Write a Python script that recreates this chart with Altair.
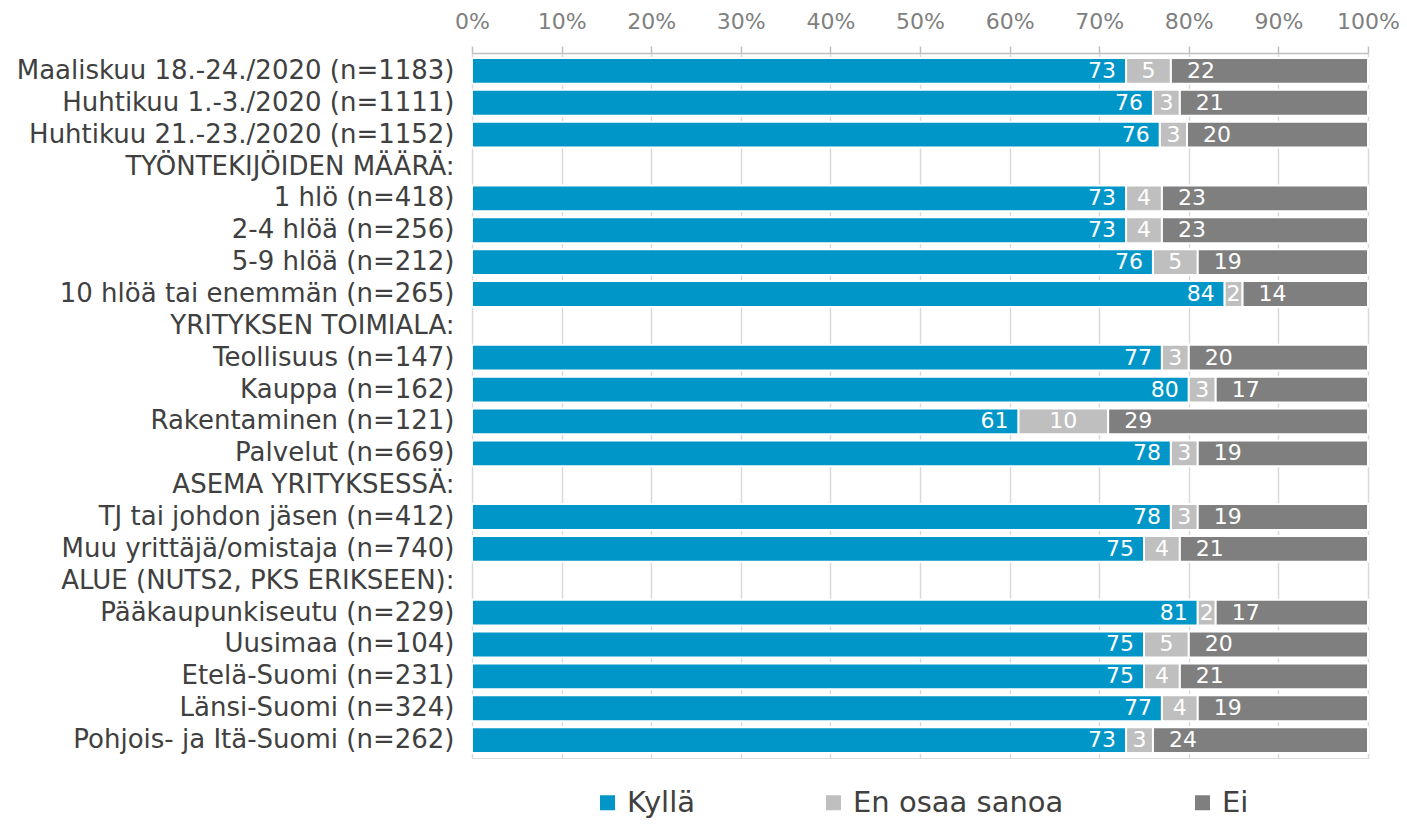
import altair as alt
import pandas as pd

rows = [
    "Maaliskuu 18.-24./2020 (n=1183)",
    "Huhtikuu 1.-3./2020 (n=1111)",
    "Huhtikuu 21.-23./2020 (n=1152)",
    "TYÖNTEKIJÖIDEN MÄÄRÄ:",
    "1 hlö (n=418)",
    "2-4 hlöä (n=256)",
    "5-9 hlöä (n=212)",
    "10 hlöä tai enemmän (n=265)",
    "YRITYKSEN TOIMIALA:",
    "Teollisuus (n=147)",
    "Kauppa (n=162)",
    "Rakentaminen (n=121)",
    "Palvelut (n=669)",
    "ASEMA YRITYKSESSÄ:",
    "TJ tai johdon jäsen (n=412)",
    "Muu yrittäjä/omistaja (n=740)",
    "ALUE (NUTS2, PKS ERIKSEEN):",
    "Pääkaupunkiseutu (n=229)",
    "Uusimaa (n=104)",
    "Etelä-Suomi (n=231)",
    "Länsi-Suomi (n=324)",
    "Pohjois- ja Itä-Suomi (n=262)",
]
kylla = [73, 76, 76, None, 73, 73, 76, 84, None, 77, 80, 61, 78, None, 78, 75, None, 81, 75, 75, 77, 73]
eos = [5, 3, 3, None, 4, 4, 5, 2, None, 3, 3, 10, 3, None, 3, 4, None, 2, 5, 4, 4, 3]
ei = [22, 21, 20, None, 23, 23, 19, 14, None, 20, 17, 29, 19, None, 19, 21, None, 17, 20, 21, 19, 24]

series = ["Kyllä", "En osaa sanoa", "Ei"]
colors = ["#0096C8", "#BFBFBF", "#7F7F7F"]

recs = []
for i, r in enumerate(rows):
    if kylla[i] is None:
        continue
    vals = [kylla[i], eos[i], ei[i]]
    tot = sum(vals)
    start = 0.0
    for s, v in zip(series, vals):
        end = start + v / tot
        recs.append({"row": r, "series": s, "value": v, "start": start, "end": end,
                     "mid": (start + end) / 2})
        start = end
df = pd.DataFrame(recs)

FONT = "DejaVu Sans"

y_enc = alt.Y("row:N", sort=rows,
              scale=alt.Scale(domain=rows, paddingInner=0.19, paddingOuter=0.157),
              axis=alt.Axis(title=None, domain=False, ticks=False, labelPadding=18,
                            labelFontSize=26, labelColor="#404040", labelFont=FONT,
                            labelLimit=600))

x_scale = alt.Scale(domain=[0, 1], nice=False)

base = alt.Chart(df)

bars = base.mark_bar(stroke="white", strokeWidth=2).encode(
    x=alt.X("start:Q", scale=x_scale,
            axis=alt.Axis(orient="top", format="%", values=[i / 10 for i in range(11)],
                          title=None, grid=True, gridColor="#D9D9D9", gridWidth=1.5,
                          domainColor="#BFBFBF", domainWidth=1.5, tickColor="#BFBFBF",
                          tickSize=7, tickWidth=1.5, labelFontSize=22, labelColor="#808080",
                          labelFont=FONT, labelPadding=13, labelOverlap=False,
                          labelFlush=False)),
    x2="end:Q",
    y=y_enc,
    color=alt.Color("series:N", scale=alt.Scale(domain=series, range=colors),
                    legend=alt.Legend(title=None, orient="none", direction="horizontal",
                                      legendX=121, legendY=735, symbolType="square",
                                      symbolSize=225, symbolStrokeWidth=0,
                                      labelFontSize=29, labelFont=FONT, labelLimit=500,
                                      labelColor="#404040", labelOffset=5,
                                      columnPadding=124, padding=0)),
    order=alt.Order("start:Q"),
)

txt_common = dict(color="white", fontSize=22, font=FONT, baseline="middle")

t_k = base.transform_filter(alt.datum.series == "Kyllä").mark_text(
    align="right", dx=-10, **txt_common).encode(
    x=alt.X("end:Q", scale=x_scale), y=alt.Y("row:N", sort=rows), text="value:Q")
t_e = base.transform_filter(alt.datum.series == "En osaa sanoa").mark_text(
    align="center", **txt_common).encode(
    x=alt.X("mid:Q", scale=x_scale), y=alt.Y("row:N", sort=rows), text="value:Q")
t_n = base.transform_filter(alt.datum.series == "Ei").mark_text(
    align="left", dx=16, **txt_common).encode(
    x=alt.X("start:Q", scale=x_scale), y=alt.Y("row:N", sort=rows), text="value:Q")

chart = alt.layer(bars, t_k, t_e, t_n).properties(
    width=896, height=705,
    autosize=alt.AutoSizeParams(type="none"),
    padding={"left": 464, "top": 45, "right": 31, "bottom": 61},
).configure_view(stroke=None).configure(font=FONT)

chart.save("out.html", embed_options={"renderer": "svg", "actions": False})
